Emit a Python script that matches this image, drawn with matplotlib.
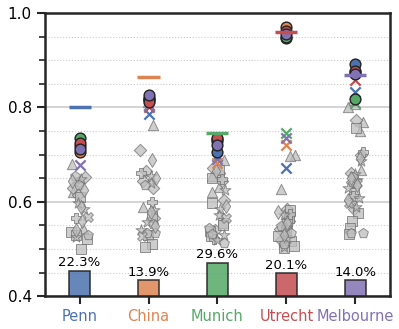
import matplotlib.pyplot as plt
import numpy as np
from matplotlib.ticker import MultipleLocator

# Data
cities = ['Penn', 'China', 'Munich', 'Utrecht', 'Melbourne']
bar_pct = [22.3, 13.9, 29.6, 20.1, 14.0]
ref_line = [0.800, 0.864, 0.746, 0.960, 0.868]

# circle models (one value per city), nan = not visible
circ_blue = [0.718, 0.820, 0.706, 0.948, 0.892]
circ_orange = [0.705, 0.815, 0.728, 0.970, 0.875]
circ_green = [0.736, 0.817, 0.733, 0.950, 0.819]
circ_red = [0.724, 0.812, 0.736, 0.962, 0.878]
circ_purple = [0.712, 0.826, 0.720, 0.955, 0.872]

# x-marker models
x_blue = [np.nan, 0.787, 0.697, 0.672, 0.833]
x_orange = [np.nan, np.nan, 0.683, 0.721, np.nan]
x_green = [np.nan, np.nan, np.nan, 0.745, 0.810]
x_red = [np.nan, 0.801, np.nan, np.nan, 0.858]
x_purple = [0.678, 0.805, 0.690, 0.735, np.nan]

# other methods (gray): values and method index per city
penn_vals = [0.681, 0.655, 0.652, 0.648, 0.645, 0.640, 0.636, 0.630, 0.625, 0.620, 0.615, 0.610, 0.597,
             0.590, 0.585, 0.568, 0.565, 0.560, 0.545, 0.540, 0.535, 0.530, 0.530, 0.525, 0.522, 0.500]
penn_meth = [0, 5, 1, 4, 7, 1, 5, 1, 7, 0, 1, 2, 4, 7, 4, 6, 3, 7, 0, 7, 2, 5, 2, 4, 2, 2]
china_vals = [0.812, 0.762, 0.710, 0.688, 0.665, 0.660, 0.655, 0.650, 0.645, 0.640, 0.635, 0.630, 0.600, 0.590,
              0.582, 0.578, 0.570, 0.565, 0.558, 0.552, 0.548, 0.540, 0.533, 0.533, 0.530, 0.528, 0.510, 0.505]
china_meth = [0, 0, 1, 7, 1, 3, 4, 7, 1, 4, 5, 1, 3, 0, 4, 7, 2, 1, 4, 5, 7, 4, 5, 5, 2, 6, 2, 2]
munich_vals = [0.688, 0.672, 0.668, 0.665, 0.660, 0.655, 0.650, 0.648, 0.645, 0.632, 0.625, 0.620, 0.604, 0.598, 0.592,
               0.585, 0.572, 0.565, 0.555, 0.550, 0.545, 0.540, 0.538, 0.535, 0.532, 0.530, 0.528, 0.522, 0.518, 0.512]
munich_meth = [0, 1, 2, 7, 1, 0, 2, 3, 1, 0, 4, 0, 1, 2, 7, 4, 4, 6, 2, 2, 5, 1, 2, 0, 5, 4, 2, 3, 4, 5]
utrecht_vals = [0.700, 0.697, 0.627, 0.585, 0.582, 0.578, 0.575, 0.572, 0.568, 0.565, 0.560, 0.556, 0.552, 0.548, 0.545,
                0.542, 0.540, 0.536, 0.533, 0.530, 0.527, 0.524, 0.520, 0.517, 0.514, 0.510, 0.507, 0.504, 0.502]
utrecht_meth = [0, 0, 0, 1, 2, 7, 3, 4, 1, 2, 1, 7, 2, 5, 4, 1, 2, 0, 5, 7, 2, 4, 1, 2, 0, 5, 2, 4, 2]
melb_vals = [0.815, 0.808, 0.800, 0.773, 0.770, 0.756, 0.750, 0.705, 0.700, 0.692, 0.686, 0.667, 0.662, 0.658, 0.652,
             0.650, 0.646, 0.643, 0.640, 0.635, 0.630, 0.618, 0.612, 0.608, 0.604, 0.597, 0.590, 0.585, 0.576, 0.560,
             0.545, 0.533, 0.533, 0.532]
melb_meth = [0, 0, 0, 1, 0, 2, 0, 3, 1, 7, 4, 0, 1, 4, 5, 7, 4, 1, 6, 7, 4, 2, 3, 4, 7, 6, 4, 1, 2, 2, 2, 5, 5, 2]

gray_vals = [penn_vals, china_vals, munich_vals, utrecht_vals, melb_vals]
gray_meth = [penn_meth, china_meth, munich_meth, utrecht_meth, melb_meth]

palette = ['#4C72B0', '#DD8452', '#55A868', '#C44E52', '#8172B3']
method_markers = ['^', 'D', 's', 'P', '*', 'p', 'X', 'd']
method_sizes = [55, 40, 50, 55, 70, 55, 50, 50]

plt.rcParams['font.family'] = 'DejaVu Sans'
fig, ax = plt.subplots(figsize=(3.99, 3.29), dpi=100)
fig.subplots_adjust(left=0.113, right=0.977, top=0.96, bottom=0.10)

xpos = np.arange(len(cities))
rng = np.random.default_rng(3)

# gray methods
for i in range(len(cities)):
    vals = np.array(gray_vals[i])
    meth = np.array(gray_meth[i])
    jit = rng.uniform(-0.13, 0.13, len(vals))
    for m, mk in enumerate(method_markers):
        sel = meth == m
        if sel.any():
            ax.scatter(xpos[i] + jit[sel], vals[sel], marker=mk, s=method_sizes[m],
                       facecolor='#bdbdbd', edgecolor='#707070', linewidth=0.7, alpha=0.75, zorder=2)

# colored x markers
for vals, c in zip([x_blue, x_orange, x_green, x_red, x_purple], palette):
    ax.scatter(xpos, vals, marker='x', s=55, color=c, linewidth=1.6, zorder=3)

# colored circles
for vals, c in zip([circ_blue, circ_orange, circ_green, circ_red, circ_purple], palette):
    ax.scatter(xpos, vals, marker='o', s=60, facecolor=c, edgecolor='#222222', linewidth=1.0, zorder=4)

# reference lines
for i, v in enumerate(ref_line):
    ax.hlines(v, xpos[i] - 0.16, xpos[i] + 0.16, color=palette[i], linewidth=2.5, zorder=5)

ax.set_xlim(-0.5, 4.5)
ax.set_ylim(0.4, 1.0)
ax.yaxis.set_major_locator(MultipleLocator(0.2))
ax.yaxis.set_minor_locator(MultipleLocator(0.05))
ax.grid(axis='y', which='major', color='#cccccc', linewidth=1.2, zorder=0)
ax.grid(axis='y', which='minor', color='#cccccc', linestyle=':', linewidth=0.8, zorder=0)
ax.set_axisbelow(True)
ax.set_xticks(xpos)
ax.set_xticklabels(cities, fontsize=10.5)
for lbl, c in zip(ax.get_xticklabels(), palette):
    lbl.set_color(c)
ax.tick_params(axis='y', which='major', labelsize=11, length=6, width=1.5, color='#262626')
ax.tick_params(axis='y', which='minor', length=4, width=1.2, color='#262626')
ax.tick_params(axis='x', length=6, width=1.5, color='#262626')
for sp in ax.spines.values():
    sp.set_linewidth(1.8)
    sp.set_color('#262626')

# bars on a twin axis
ax2 = ax.twinx()
ax2.set_ylim(0, 2.5)
bars = ax2.bar(xpos, np.array(bar_pct) / 100, width=0.3, color=palette, alpha=0.85,
               edgecolor='#222222', linewidth=1.2)
ax2.bar_label(bars, labels=[f'{p:.1f}%' for p in bar_pct], padding=1, fontsize=9.5)
ax2.set_yticks([])
for sp in ax2.spines.values():
    sp.set_visible(False)

plt.savefig('out.png', dpi=100)
